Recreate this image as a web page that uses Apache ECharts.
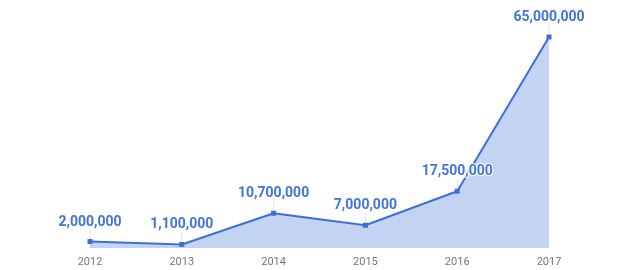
<!DOCTYPE html>
<html><head><meta charset="utf-8">
<script src="https://cdn.jsdelivr.net/npm/echarts@6/dist/echarts.min.js"></script>
<style>html,body{margin:0;padding:0;background:#fff}#c{width:636px;height:270px}</style>
</head><body><div id="c"></div>
<script>
const years = ['2012','2013','2014','2015','2016','2017'];
const values = [2000000, 1100000, 10700000, 7000000, 17500000, 65000000];

const chart = echarts.init(document.getElementById('c'));
chart.setOption({
  animation: false,
  grid: {left: 90, right: 87, top: 37, bottom: 22},
  xAxis: {
    type: 'category', data: years, boundaryGap: false,
    axisLine: {show: false}, axisTick: {show: false}, splitLine: {show: false},
    axisLabel: {color: '#777', fontSize: 11, fontFamily: 'Roboto', margin: 9}
  },
  yAxis: {type: 'value', min: 0, max: 65000000, show: false, splitLine: {show: false}},
  series: [
    {
      type: 'custom',
      data: values.map((v, i) => [i, v]),
      renderItem: function (params, api) {
        const p = api.coord([api.value(0), api.value(1)]);
        return {type: 'line', shape: {x1: p[0], y1: p[1], x2: p[0], y2: p[1] - 12},
          style: {stroke: '#e3e3e3', lineWidth: 1}, z2: 0};
      },
      z: 1
    },
    {
      type: 'line', data: values, z: 3,
      symbol: 'rect', symbolSize: 5, showAllSymbol: true,
      lineStyle: {color: '#3e6fd8', width: 2},
      itemStyle: {color: '#3e6fd8'},
      areaStyle: {color: '#c3d3f2', opacity: 1},
      label: {
        show: true, position: 'top', distance: 10,
        color: '#4274d8', fontSize: 14, fontWeight: 'bold', fontFamily: 'Roboto',
        textBorderColor: '#fff', textBorderWidth: 2,
        formatter: p => p.value.toLocaleString('en-US')
      }
    }
  ]
});
</script></body></html>
